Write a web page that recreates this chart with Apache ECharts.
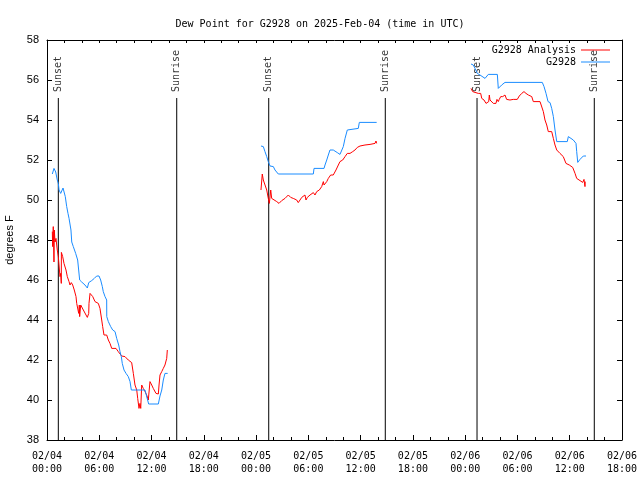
<!DOCTYPE html>
<html><head><meta charset="utf-8">
<script src="https://cdn.jsdelivr.net/npm/echarts@6/dist/echarts.min.js"></script>
<style>html,body{margin:0;padding:0;background:#fff}#c{width:640px;height:480px}</style>
</head><body><div id="c"></div>
<script>
// hours since 2025-02-04 00:00 UTC, dew point in degrees F
const analysisSeg1 = [[0.61,48.42],[0.65,47.67],[0.72,48.67],[0.80,46.9],[0.84,48.5],[0.92,47.9],[1.03,48.08],[1.18,47.5],[1.30,47.17],[1.38,46.75],[1.49,46.17],[1.57,46.33],[1.64,45.83],[1.65,47.38],[1.80,47.17],[1.95,46.83],[2.18,46.5],[2.33,46.17],[2.53,45.92],[2.64,45.75],[2.79,45.87],[2.95,45.75],[3.13,45.5],[3.33,45.17],[3.41,44.83],[3.64,44.33],[3.71,44.75],[3.75,44.17],[3.87,44.75],[4.17,44.5],[4.48,44.25],[4.63,44.13],[4.79,44.33],[4.82,44.83],[4.94,45.33],[5.25,45.17],[5.51,44.92],[5.89,44.83],[6.08,44.58],[6.28,44.0],[6.39,43.67],[6.54,43.25],[6.85,43.25],[7.04,43.0],[7.23,42.83],[7.43,42.58],[7.61,42.5],[7.92,42.58],[8.18,42.42],[8.57,42.2],[8.95,42.17],[9.33,42.0],[9.72,41.87],[9.91,41.33],[10.10,40.75],[10.30,40.5],[10.41,40.08],[10.56,39.58],[10.67,39.83],[10.76,39.58],[10.87,40.75],[11.05,40.58],[11.25,40.42],[11.44,40.25],[11.63,40.0],[11.82,40.92],[12.02,40.75],[12.20,40.58],[12.51,40.33],[12.78,40.3],[12.86,40.75],[12.97,41.25],[13.17,41.42],[13.35,41.58],[13.54,41.75],[13.74,42.08],[13.81,42.5]];
const analysisSeg2 = [[24.56,50.5],[24.71,51.3],[24.83,51.0],[25.02,50.92],[25.22,50.5],[25.40,50.08],[25.52,49.83],[25.60,49.75],[25.68,50.5],[25.79,50.08],[25.98,50.0],[26.37,49.92],[26.63,49.83],[26.94,49.97],[27.32,50.08],[27.70,50.25],[27.97,50.13],[28.27,50.08],[28.66,50.0],[28.84,49.87],[29.04,50.0],[29.24,50.13],[29.42,50.17],[29.61,50.25],[29.73,50.0],[29.88,50.13],[30.19,50.25],[30.57,50.37],[30.76,50.25],[30.96,50.42],[31.26,50.5],[31.53,50.67],[31.72,50.92],[31.80,50.75],[32.11,50.92],[32.29,51.08],[32.56,51.25],[32.86,51.25],[33.17,51.5],[33.44,51.75],[33.63,51.92],[33.94,52.0],[34.21,52.17],[34.47,52.33],[34.78,52.33],[35.09,52.42],[35.35,52.5],[35.62,52.63],[35.93,52.7],[36.50,52.75],[37.08,52.78],[37.65,52.83],[37.76,52.95],[37.84,52.83]];
const analysisSeg3 = [[48.67,55.58],[48.75,55.63],[48.86,55.42],[49.13,55.38],[49.32,55.47],[49.51,55.33],[49.78,55.33],[49.90,55.08],[50.16,55.0],[50.39,54.83],[50.59,54.83],[50.70,54.92],[50.77,55.25],[50.85,55.0],[51.04,54.92],[51.23,54.83],[51.42,54.75],[51.53,54.83],[51.65,55.03],[51.73,55.13],[51.80,54.92],[51.91,55.03],[52.08,55.17],[52.31,55.17],[52.57,55.25],[52.76,55.03],[53.14,55.0],[53.52,55.03],[53.72,55.08],[53.98,55.03],[54.21,55.2],[54.49,55.33],[54.75,55.42],[54.98,55.33],[55.25,55.25],[55.64,55.17],[55.82,54.92],[56.59,54.92],[56.78,54.83],[56.97,54.42],[57.16,54.0],[57.36,53.75],[57.54,53.42],[57.93,53.42],[58.12,53.08],[58.31,52.75],[58.51,52.5],[58.88,52.33],[59.26,52.17],[59.57,51.83],[59.95,51.75],[60.34,51.63],[60.61,51.33],[60.80,51.08],[61.18,50.97],[61.49,50.88],[61.64,51.03],[61.75,50.67],[61.78,50.92]];
const stationSeg1 = [[0.61,51.3],[0.80,51.58],[1.00,51.4],[1.18,51.0],[1.30,50.83],[1.38,50.5],[1.57,50.33],[1.72,50.33],[1.84,50.6],[1.95,50.5],[2.10,50.17],[2.26,49.67],[2.41,49.33],[2.53,49.08],[2.64,49.0],[2.75,48.5],[2.84,47.9],[3.02,47.67],[3.29,47.33],[3.52,47.0],[3.71,46.9],[3.75,46.0],[3.98,45.9],[4.36,45.75],[4.63,45.6],[4.79,45.87],[5.13,45.97],[5.43,46.08],[5.70,46.2],[5.97,46.2],[6.16,46.0],[6.35,45.67],[6.46,45.42],[6.66,45.17],[6.85,45.0],[6.86,44.17],[7.04,43.92],[7.31,43.67],[7.54,43.5],[7.81,43.42],[8.00,43.08],[8.23,42.75],[8.38,42.42],[8.53,42.17],[8.64,41.83],[8.84,41.5],[9.07,41.33],[9.33,41.17],[9.53,40.92],[9.68,40.5],[11.25,40.5],[11.67,39.8],[12.78,39.8],[12.97,40.2],[13.17,40.5],[13.35,41.0],[13.54,41.33],[13.85,41.33]];
const stationSeg2 = [[24.56,52.7],[24.83,52.67],[25.02,52.42],[25.22,52.17],[25.40,51.92],[25.60,51.7],[25.98,51.67],[26.17,51.5],[26.55,51.3],[30.57,51.3],[30.65,51.58],[31.80,51.58],[31.91,51.75],[32.11,52.0],[32.29,52.25],[32.48,52.5],[32.68,52.58],[32.86,52.5],[33.32,52.37],[33.63,52.28],[33.83,52.37],[34.01,52.67],[34.21,53.08],[34.47,53.5],[34.58,53.58],[35.73,53.58],[35.85,53.88],[37.84,53.88]];
const stationSeg3 = [[48.67,56.8],[48.93,56.75],[49.13,56.58],[49.39,56.33],[49.70,56.25],[50.28,56.08],[50.47,56.0],[50.65,56.28],[51.69,56.28],[51.80,55.58],[52.19,55.75],[52.57,55.88],[56.85,55.88],[57.05,55.67],[57.28,55.33],[57.51,54.92],[57.74,54.87],[57.93,54.58],[58.12,54.17],[58.31,53.5],[58.51,52.92],[59.72,52.92],[59.84,53.17],[60.03,53.08],[60.41,53.0],[60.72,52.83],[60.80,52.42],[60.92,51.88],[61.18,52.03],[61.56,52.2],[61.87,52.2]];
const sunEventHours = [1.30, 14.89, 25.45, 38.83, 49.36, 62.82];
const sunEventNames = ['Sunset','Sunrise','Sunset','Sunrise','Sunset','Sunrise'];
const seriesNames = ['G2928 Analysis', 'G2928'];
const titleText = 'Dew Point for G2928 on 2025-Feb-04 (time in UTC)';
const yAxisTitle = 'degrees F';

const MONO = '"DejaVu Sans Mono", monospace';
const SANS = '"Liberation Sans", Arial, sans-serif';
const RED = '#ff0000', BLUE = '#1a8cff';
const SUN_TOP = 55.1, LABEL_Y = 55.4;

function fmtX(h) {
  const day = 4 + Math.floor(h / 24);
  const hh = Math.round(h % 24);
  return '02/0' + day + '\n' + (hh < 10 ? '0' : '') + hh + ':00';
}

const lineSeries = (name, data, color) => ({
  name, type: 'line', data, showSymbol: false, symbol: 'none',
  lineStyle: { color, width: 1 }, itemStyle: { color }, animation: false, z: 3
});

const series = [];
[analysisSeg1, analysisSeg2, analysisSeg3].forEach(s => series.push(lineSeries(seriesNames[0], s, RED)));
[stationSeg1, stationSeg2, stationSeg3].forEach(s => series.push(lineSeries(seriesNames[1], s, BLUE)));
sunEventHours.forEach(h => series.push({
  type: 'line', data: [[h, 38], [h, SUN_TOP]], symbol: 'none', silent: true,
  lineStyle: { color: '#000', width: 1 }, animation: false, z: 2
}));
series.push({
  type: 'scatter', symbolSize: 0, silent: true, animation: false,
  data: sunEventHours.map((h, i) => ({ value: [h, LABEL_Y], name: sunEventNames[i] })),
  label: { show: true, formatter: p => p.name, rotate: 90, position: [0, 0],
    align: 'left', verticalAlign: 'middle', fontFamily: MONO, fontSize: 10, color: '#000' }
});

const axisCommon = {
  axisLine: { show: true, onZero: false, lineStyle: { color: '#000', width: 1 } },
  splitLine: { show: false }
};

const chart = echarts.init(document.getElementById('c'), null, { renderer: 'canvas' });
chart.setOption({
  backgroundColor: '#fff',
  animation: false,
  title: { text: titleText, left: 'center', top: 14,
    textStyle: { fontFamily: MONO, fontSize: 10, fontWeight: 'normal', color: '#000' } },
  legend: [
    { data: [seriesNames[0]], orient: 'vertical', right: 30, top: 45, align: 'right', padding: 0,
      icon: 'rect', itemWidth: 29, itemHeight: 1, textStyle: { fontFamily: MONO, fontSize: 10, color: '#000' } },
    { data: [seriesNames[1]], orient: 'vertical', right: 30, top: 57, align: 'right', padding: 0,
      icon: 'rect', itemWidth: 29, itemHeight: 1, textStyle: { fontFamily: MONO, fontSize: 10, color: '#000' } }
  ],
  grid: { left: 47, right: 18, top: 40, bottom: 40, containLabel: false, outerBoundsMode: 'none' },
  xAxis: [
    Object.assign({}, axisCommon, { type: 'value', min: 0, max: 66, interval: 6, position: 'bottom',
      axisTick: { show: true, inside: true, length: 5, lineStyle: { color: '#000' } },
      minorTick: { show: true, splitNumber: 3, length: 3, lineStyle: { color: '#000' } },
      axisLabel: { formatter: fmtX, fontFamily: MONO, fontSize: 10, color: '#000', lineHeight: 13, margin: 10 } }),
    Object.assign({}, axisCommon, { type: 'value', min: 0, max: 66, interval: 6, position: 'top',
      axisTick: { show: true, inside: true, length: 3, lineStyle: { color: '#000' } },
      minorTick: { show: true, splitNumber: 3, length: 3, lineStyle: { color: '#000' } },
      axisLabel: { show: false } })
  ],
  yAxis: [
    Object.assign({}, axisCommon, { type: 'value', min: 38, max: 58, interval: 2, position: 'left',
      name: yAxisTitle, nameLocation: 'middle', nameGap: 32, nameRotate: 90,
      nameTextStyle: { fontFamily: SANS, fontSize: 11, color: '#000' },
      axisTick: { show: true, inside: true, length: 5, lineStyle: { color: '#000' } },
      axisLabel: { fontFamily: SANS, fontSize: 11, color: '#000', margin: 8 } }),
    Object.assign({}, axisCommon, { type: 'value', min: 38, max: 58, interval: 2, position: 'right',
      axisTick: { show: true, inside: true, length: 5, lineStyle: { color: '#000' } },
      axisLabel: { show: false } })
  ],
  series
});
</script></body></html>
